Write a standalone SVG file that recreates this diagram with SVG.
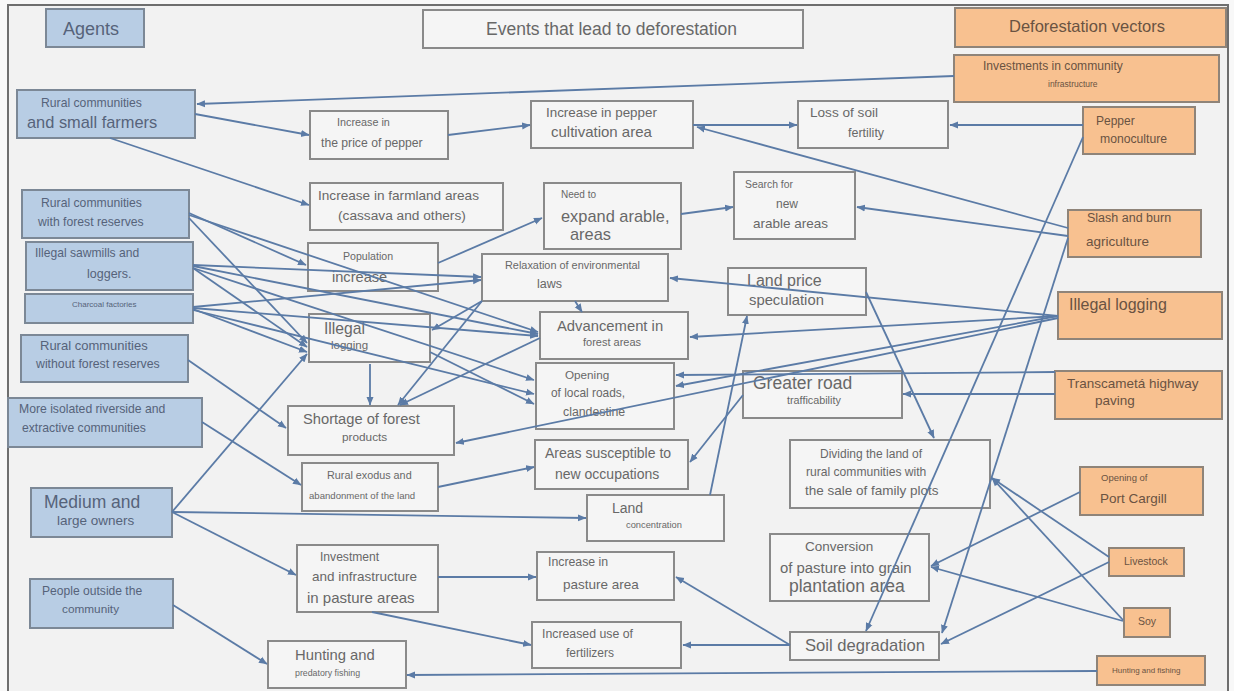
<svg xmlns="http://www.w3.org/2000/svg" width="1234" height="691" viewBox="0 0 1234 691">
<style>
text{font-family:"Liberation Sans",Arial,sans-serif;}
.ag rect{fill:#b8cde4;stroke:#7c8896;stroke-width:2;}
.ag text{fill:#56637a;}
.vc rect{fill:#f8c190;stroke:#8f8479;stroke-width:2;}
.vc text{fill:#6a5342;}
.ev rect{fill:#f5f5f5;stroke:#8a8a8a;stroke-width:2;}
.ev text{fill:#686868;}
#connectors line{stroke:#5b7ba6;stroke-width:1.8;fill:none;marker-end:url(#ah);}
</style>
<defs>
<marker id="ah" markerUnits="userSpaceOnUse" markerWidth="9" markerHeight="8" refX="8" refY="4" orient="auto">
<path d="M0,0.5 L8.5,4 L0,7.5 z" fill="#5b7ba6"/>
</marker>
</defs>
<rect x="0" y="0" width="1234" height="691" fill="#f8f8f8"/>
<rect x="8" y="5" width="1220" height="700" fill="#f2f2f2" stroke="#6e6e6e" stroke-width="2"/>

<g id="agents-header" class="ag"><rect x="46" y="9" width="98" height="38"/><text x="63" y="35" font-size="18">Agents</text></g>
<g id="title" class="ev"><rect x="423" y="10" width="380" height="38"/><text x="486" y="35" font-size="17.5">Events that lead to deforestation</text></g>
<g id="vectors-header" class="vc"><rect x="955" y="8" width="271" height="39"/><text x="1009" y="32" font-size="16.5">Deforestation vectors</text></g>

<g id="rural-small" class="ag"><rect x="17" y="90" width="178" height="48"/><text x="41" y="107" font-size="12.2">Rural communities</text><text x="27" y="128" font-size="16.4">and small farmers</text></g>
<g id="rural-forest" class="ag"><rect x="22" y="190" width="167" height="48"/><text x="41" y="207" font-size="12.2">Rural communities</text><text x="38" y="226" font-size="12.2">with forest reserves</text></g>
<g id="sawmills" class="ag"><rect x="26" y="242" width="167" height="48"/><text x="35" y="257" font-size="12.1">Illegal sawmills and</text><text x="87" y="278" font-size="12.5">loggers.</text></g>
<g id="charcoal" class="ag"><rect x="25" y="294" width="168" height="29"/><text x="72" y="307" font-size="8">Charcoal factories</text></g>
<g id="rural-noforest" class="ag"><rect x="21" y="335" width="167" height="47"/><text x="40" y="350" font-size="13">Rural communities</text><text x="36" y="368" font-size="12.3">without forest reserves</text></g>
<g id="riverside" class="ag"><rect x="8" y="398" width="194" height="49"/><text x="19" y="413" font-size="12.2">More isolated riverside and</text><text x="22" y="432" font-size="12.2">extractive communities</text></g>
<g id="medium" class="ag"><rect x="31" y="488" width="141" height="49"/><text x="44" y="508" font-size="17.5">Medium and</text><text x="57" y="525" font-size="13.5">large owners</text></g>
<g id="outside" class="ag"><rect x="30" y="579" width="143" height="49"/><text x="42" y="595" font-size="12.1">People outside the</text><text x="62" y="613" font-size="11.8">community</text></g>

<g id="price-pepper" class="ev"><rect x="310" y="111" width="138" height="48"/><text x="337" y="126" font-size="10.8">Increase in</text><text x="321" y="147" font-size="12.2">the price of pepper</text></g>
<g id="pepper-area" class="ev"><rect x="531" y="101" width="162" height="47"/><text x="546" y="117" font-size="13.4">Increase in pepper</text><text x="551" y="137" font-size="15">cultivation area</text></g>
<g id="soil-fertility" class="ev"><rect x="798" y="101" width="150" height="47"/><text x="810" y="117" font-size="13.6">Loss of soil</text><text x="848" y="137" font-size="12.5">fertility</text></g>
<g id="farmland" class="ev"><rect x="310" y="183" width="193" height="47"/><text x="318" y="200" font-size="13.6">Increase in farmland areas</text><text x="338" y="220" font-size="13.7">(cassava and others)</text></g>
<g id="expand" class="ev"><rect x="544" y="183" width="137" height="66"/><text x="561" y="198" font-size="10">Need to</text><text x="561" y="222" font-size="16.4">expand arable,</text><text x="570" y="240" font-size="16.4">areas</text></g>
<g id="search" class="ev"><rect x="734" y="172" width="121" height="67"/><text x="745" y="188" font-size="10.4">Search for</text><text x="776" y="208" font-size="12">new</text><text x="753" y="228" font-size="13.5">arable areas</text></g>
<g id="population" class="ev"><rect x="308" y="243" width="130" height="48"/><text x="343" y="260" font-size="10.6">Population</text><text x="332" y="282" font-size="14.6">increase</text></g>
<g id="relaxation" class="ev"><rect x="482" y="254" width="186" height="47"/><text x="505" y="269" font-size="10.9">Relaxation of environmental</text><text x="537" y="288" font-size="12.5">laws</text></g>
<g id="land-price" class="ev"><rect x="728" y="268" width="138" height="47"/><text x="747" y="286" font-size="16">Land price</text><text x="749" y="305" font-size="14.8">speculation</text></g>
<g id="illegal-logging-ev" class="ev"><rect x="309" y="314" width="121" height="48"/><text x="324" y="334" font-size="15.7">Illegal</text><text x="331" y="349" font-size="11.5">logging</text></g>
<g id="advancement" class="ev"><rect x="540" y="312" width="148" height="47"/><text x="557" y="331" font-size="14.8">Advancement in</text><text x="583" y="346" font-size="11">forest areas</text></g>
<g id="local-roads" class="ev"><rect x="536" y="363" width="138" height="66"/><text x="565" y="379" font-size="11.7">Opening</text><text x="551" y="397" font-size="11.9">of local roads,</text><text x="563" y="416" font-size="12.3">clandestine</text></g>
<g id="road" class="ev"><rect x="743" y="371" width="159" height="47"/><text x="753" y="389" font-size="17.5">Greater road</text><text x="787" y="404" font-size="10.8">trafficability</text></g>
<g id="shortage" class="ev"><rect x="288" y="406" width="166" height="49"/><text x="303" y="424" font-size="14.7">Shortage of forest</text><text x="342" y="441" font-size="11.8">products</text></g>
<g id="exodus" class="ev"><rect x="302" y="463" width="136" height="48"/><text x="327" y="479" font-size="10.8">Rural exodus and</text><text x="309" y="499" font-size="9.6">abandonment of the land</text></g>
<g id="susceptible" class="ev"><rect x="535" y="440" width="153" height="49"/><text x="545" y="458" font-size="14">Areas susceptible to</text><text x="555" y="479" font-size="14">new occupations</text></g>
<g id="concentration" class="ev"><rect x="587" y="495" width="137" height="46"/><text x="612" y="513" font-size="14">Land</text><text x="626" y="528" font-size="9.3">concentration</text></g>
<g id="dividing" class="ev"><rect x="790" y="440" width="200" height="68"/><text x="820" y="458" font-size="12">Dividing the land of</text><text x="806" y="476" font-size="12.1">rural communities with</text><text x="805" y="495" font-size="13.5">the sale of family plots</text></g>
<g id="invest-pasture" class="ev"><rect x="297" y="545" width="141" height="67"/><text x="320" y="561" font-size="12.1">Investment</text><text x="312" y="581" font-size="13.5">and infrastructure</text><text x="307" y="603" font-size="15">in pasture areas</text></g>
<g id="pasture-area" class="ev"><rect x="537" y="552" width="137" height="48"/><text x="548" y="566" font-size="12.3">Increase in</text><text x="563" y="589" font-size="13.5">pasture area</text></g>
<g id="conversion" class="ev"><rect x="770" y="534" width="159" height="67"/><text x="805" y="551" font-size="13.5">Conversion</text><text x="780" y="573" font-size="14.9">of pasture into grain</text><text x="789" y="592" font-size="17.5">plantation area</text></g>
<g id="fertilizers" class="ev"><rect x="532" y="622" width="149" height="46"/><text x="542" y="638" font-size="12.3">Increased use of</text><text x="566" y="657" font-size="12">fertilizers</text></g>
<g id="soil-degradation" class="ev"><rect x="790" y="632" width="149" height="28"/><text x="805" y="651" font-size="16.6">Soil degradation</text></g>
<g id="hunting-predatory" class="ev"><rect x="268" y="641" width="138" height="47"/><text x="295" y="660" font-size="14.8">Hunting and</text><text x="295" y="676" font-size="8.8">predatory fishing</text></g>

<g id="investments" class="vc"><rect x="954" y="55" width="265" height="47"/><text x="983" y="70" font-size="12.1">Investments in community</text><text x="1048" y="87" font-size="8.5">infrastructure</text></g>
<g id="pepper-mono" class="vc"><rect x="1083" y="107" width="112" height="47"/><text x="1096" y="125" font-size="12">Pepper</text><text x="1100" y="143" font-size="12.2">monoculture</text></g>
<g id="slash" class="vc"><rect x="1068" y="210" width="133" height="47"/><text x="1087" y="222" font-size="12.5">Slash and burn</text><text x="1086" y="246" font-size="13.5">agriculture</text></g>
<g id="illegal-logging-vc" class="vc"><rect x="1058" y="292" width="164" height="47"/><text x="1069" y="310" font-size="16">Illegal logging</text></g>
<g id="transcameta" class="vc"><rect x="1055" y="371" width="167" height="48"/><text x="1067" y="388" font-size="13.5">Transcametá highway</text><text x="1095" y="405" font-size="13.5">paving</text></g>
<g id="port-cargill" class="vc"><rect x="1080" y="467" width="123" height="48"/><text x="1101" y="481" font-size="9.5">Opening of</text><text x="1100" y="503" font-size="13.5">Port Cargill</text></g>
<g id="livestock" class="vc"><rect x="1109" y="548" width="75" height="28"/><text x="1124" y="565" font-size="10.5">Livestock</text></g>
<g id="soy" class="vc"><rect x="1124" y="608" width="46" height="29"/><text x="1138" y="625" font-size="10.5">Soy</text></g>
<g id="hunting-fishing" class="vc"><rect x="1097" y="656" width="108" height="29"/><text x="1112" y="673" font-size="8">Hunting and fishing</text></g>

<g id="connectors">
<line x1="954" y1="76" x2="197" y2="104"/>
<line x1="195" y1="114" x2="309" y2="135"/>
<line x1="110" y1="138" x2="309" y2="205"/>
<line x1="448" y1="135" x2="530" y2="125"/>
<line x1="693" y1="125" x2="797" y2="125"/>
<line x1="1083" y1="125" x2="950" y2="125"/>
<line x1="1068" y1="228" x2="697" y2="127"/>
<line x1="1068" y1="236" x2="857" y2="207"/>
<line x1="438" y1="263" x2="542" y2="218"/>
<line x1="681" y1="214" x2="733" y2="207"/>
<line x1="189" y1="213" x2="306" y2="265"/>
<line x1="189" y1="218" x2="307" y2="343"/>
<line x1="189" y1="215" x2="538" y2="332"/>
<line x1="193" y1="265" x2="481" y2="277"/>
<line x1="193" y1="266" x2="538" y2="334"/>
<line x1="193" y1="268" x2="307" y2="347"/>
<line x1="193" y1="268" x2="534" y2="380"/>
<line x1="193" y1="307" x2="481" y2="280"/>
<line x1="193" y1="308" x2="538" y2="336"/>
<line x1="193" y1="309" x2="307" y2="352"/>
<line x1="193" y1="310" x2="534" y2="394"/>
<line x1="430" y1="352" x2="534" y2="404"/>
<line x1="482" y1="301" x2="432" y2="330"/>
<line x1="482" y1="301" x2="398" y2="405"/>
<line x1="540" y1="338" x2="400" y2="405"/>
<line x1="370" y1="364" x2="370" y2="405"/>
<line x1="575" y1="301" x2="582" y2="312"/>
<line x1="1058" y1="316" x2="670" y2="278"/>
<line x1="1058" y1="316" x2="690" y2="337"/>
<line x1="1058" y1="316" x2="676" y2="386"/>
<line x1="1058" y1="318" x2="456" y2="443"/>
<line x1="1055" y1="372" x2="676" y2="375"/>
<line x1="1055" y1="394" x2="903" y2="394"/>
<line x1="743" y1="395" x2="690" y2="462"/>
<line x1="710" y1="495" x2="747" y2="316"/>
<line x1="866" y1="292" x2="934" y2="438"/>
<line x1="188" y1="360" x2="286" y2="428"/>
<line x1="202" y1="422" x2="301" y2="485"/>
<line x1="438" y1="487" x2="534" y2="467"/>
<line x1="172" y1="512" x2="307" y2="354"/>
<line x1="172" y1="512" x2="586" y2="518"/>
<line x1="172" y1="512" x2="296" y2="575"/>
<line x1="173" y1="605" x2="267" y2="664"/>
<line x1="438" y1="577" x2="536" y2="577"/>
<line x1="372" y1="612" x2="531" y2="645"/>
<line x1="790" y1="645" x2="676" y2="577"/>
<line x1="790" y1="645" x2="683" y2="645"/>
<line x1="1083" y1="137" x2="866" y2="631"/>
<line x1="1068" y1="238" x2="942" y2="633"/>
<line x1="1080" y1="492" x2="931" y2="566"/>
<line x1="1123" y1="621" x2="931" y2="567"/>
<line x1="1109" y1="557" x2="992" y2="478"/>
<line x1="1123" y1="620" x2="992" y2="478"/>
<line x1="1109" y1="562" x2="941" y2="644"/>
<line x1="1097" y1="671" x2="407" y2="675"/>
</g>
</svg>
